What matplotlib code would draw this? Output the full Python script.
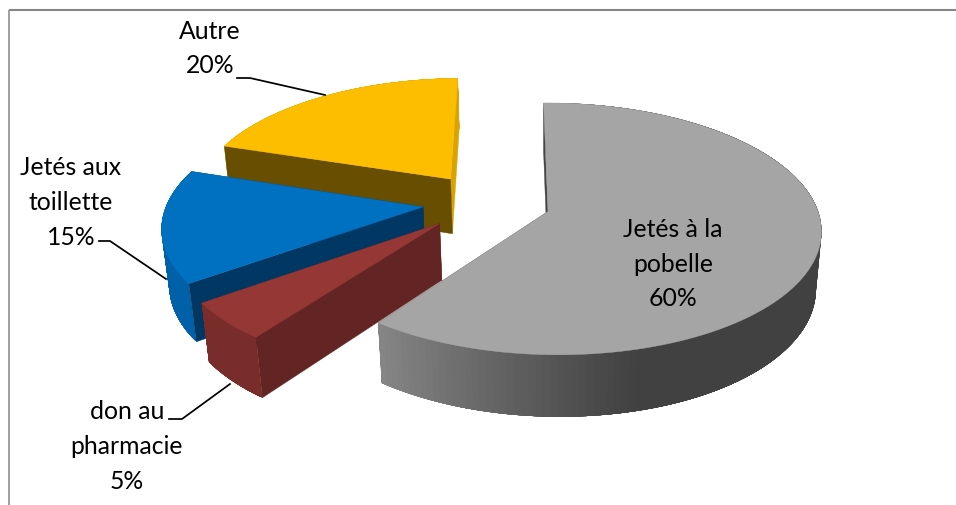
import numpy as np
import matplotlib
matplotlib.use("Agg")
import matplotlib.pyplot as plt
from matplotlib.collections import PolyCollection
from matplotlib.colors import to_rgb

# ---------- data ----------
categories = ["Jetés à la\npobelle", "don au\npharmacie", "Jetés aux\ntoillette", "Autre"]
values = [60, 5, 15, 20]
percent_labels = ["60%", "5%", "15%", "20%"]

# ---------- styles ----------
top_colors = ["#A5A5A5", "#953735", "#0070C0", "#FDBE00"]
start_wall = ["#454545", "#632523", "#003763", "#674E00"]
end_wall = ["#454545", "#632523", "#003763", "#D9A300"]
rim_left = ["#939393", "#7B2E2C", "#0062AA", "#D9A300"]
rim_right = ["#414141", "#772C2A", "#0060A6", "#D9A300"]
draw_order = [3, 2, 1, 0]
label_xy = [(673, 264), (127, 446.5), (71, 202.5), (210, 48.5)]
leaders = [None,
           [(169, 420), (182, 420), (230, 385)],
           [(99, 242), (110, 242), (166, 280)],
           [(237, 79), (250, 79), (325, 96)]]

# camera
X0, Y0 = 548.0, 212.5
S, T, B, D = 266.0, 123.5, -5.0, 57.5
A, C, G = 0.138, -0.015, 0.02
EXPLODE = 0.245
SPAN = 10


def project(x, y, z):
    w = 1 + A * y + C * x + G * z
    return X0 + (S * x + B * y) / w, Y0 + (-T * y + D * z) / w


fig = plt.figure(figsize=(9.56, 5.06), dpi=100, facecolor="white")
ax = fig.add_axes([0, 0, 1, 1])
ax.set_xlim(0, 956)
ax.set_ylim(506, 0)
ax.axis("off")

ax.plot([9.5, 9.5], [506, 11], color="#989898", lw=1.3, solid_capstyle="butt")
ax.plot([9.5, 956], [11, 11], color="#868686", lw=1.5, solid_capstyle="butt")

shares = np.array(values, float) / np.sum(values) * 2 * np.pi
ends = np.cumsum(shares)
starts = ends - shares
mids = (starts + ends) / 2
ox0, oy0 = EXPLODE * np.sin(mids[0]), EXPLODE * np.cos(mids[0])

for i in draw_order:
    ox = EXPLODE * np.sin(mids[i]) - ox0
    oy = EXPLODE * np.cos(mids[i]) - oy0
    th = np.linspace(starts[i], ends[i], 160)
    xs = ox + np.sin(th)
    ys = oy + np.cos(th)
    px_t, py_t = project(xs, ys, 0)
    px_b, py_b = project(xs, ys, 1)
    ax0, ay0 = project(ox, oy, 0)
    ax1, ay1 = project(ox, oy, 1)

    # far cut wall
    ax.fill([ax0, px_t[-1], px_b[-1], ax1], [ay0, py_t[-1], py_b[-1], ay1],
            color=end_wall[i], lw=0.3)

    # curved rim, shaded along x; strips overlap so no seams show
    quads, cols = [], []
    c0, c1 = np.array(to_rgb(rim_left[i])), np.array(to_rgb(rim_right[i]))
    n = len(th)
    for k in range(n - 2, -1, -1):
        idx = list(range(k, min(k + SPAN, n - 1) + 1))
        quads.append([(px_t[j], py_t[j]) for j in idx] +
                     [(px_b[j], py_b[j]) for j in idx[::-1]])
        f = np.clip((px_t[k] - 384) / (700 - 384), 0, 1) if i == 0 else 0.5
        cols.append(c0 + (c1 - c0) * f)
    ax.add_collection(PolyCollection(quads, facecolors=cols, edgecolors="none"))

    # cut wall facing the viewer
    ax.fill([ax0, px_t[0], px_b[0], ax1], [ay0, py_t[0], py_b[0], ay1],
            color=start_wall[i], lw=0.3)

    # top face
    ax.fill(np.r_[ax0, px_t], np.r_[ay0, py_t], color=top_colors[i], lw=0.3)

for i, lead in enumerate(leaders):
    if lead:
        ax.plot(*zip(*lead), color="black", lw=1.25, solid_joinstyle="round")

for i in range(len(values)):
    ax.text(label_xy[i][0], label_xy[i][1], categories[i] + "\n" + percent_labels[i],
            ha="center", va="center", fontsize=17.8, family="Lato",
            linespacing=1.63, color="black")

fig.savefig("out.png", dpi=100, facecolor="white")
